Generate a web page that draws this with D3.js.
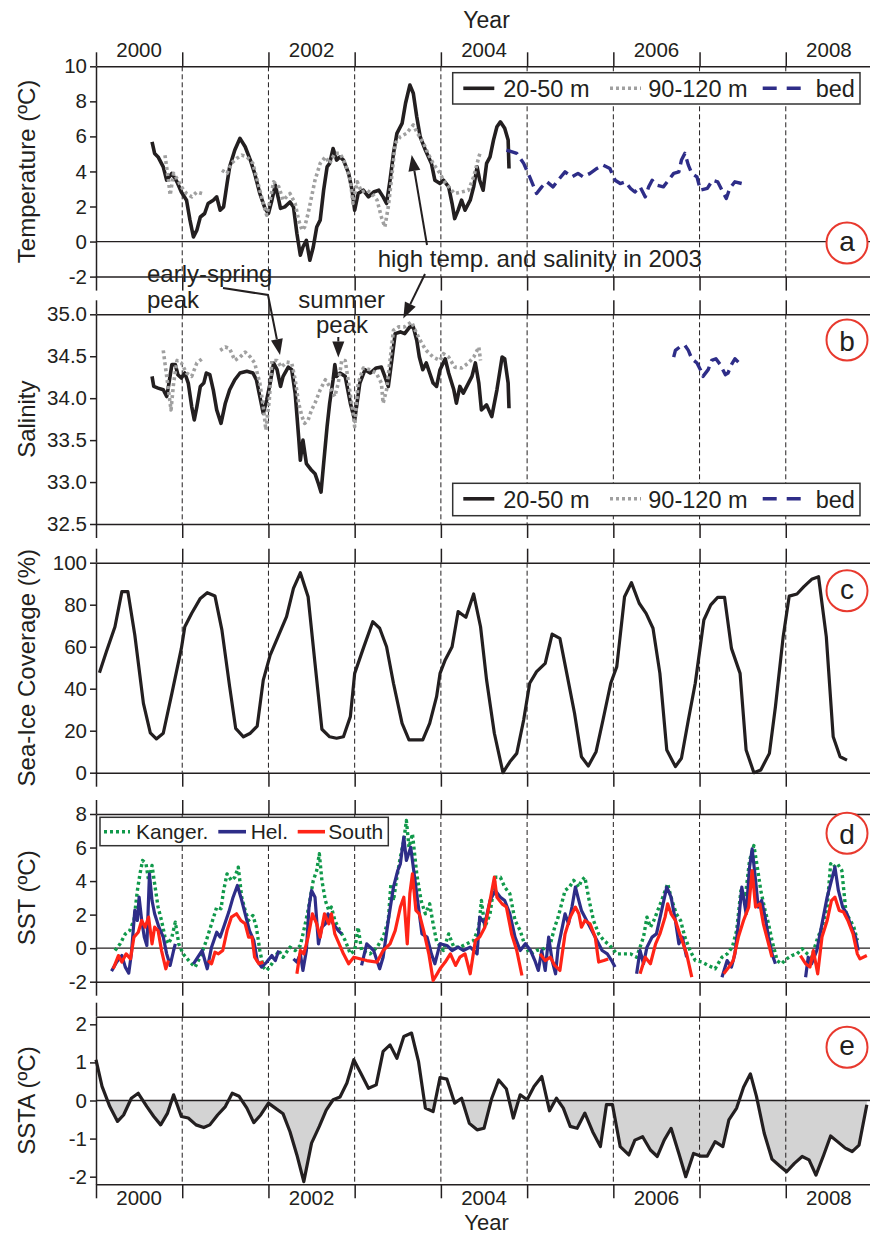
<!DOCTYPE html>
<html>
<head>
<meta charset="utf-8">
<script src="https://cdn.jsdelivr.net/npm/d3@7"></script>
<style>
  body { margin: 0; background: #fff; }
  svg { display: block; }
  text { font-family: "Liberation Sans", Arial, sans-serif; fill: #231f20; }
</style>
</head>
<body>
<svg id="chart" width="870" height="1234"></svg>
<script>
// ---- year ticks ----
const years = [2000, 2001, 2002, 2003, 2004, 2005, 2006, 2007, 2008];
const gridYears = [2001, 2002, 2003, 2004, 2005, 2006, 2007, 2008];
const yearLabels = [2000, 2002, 2004, 2006, 2008];

// ---- y tick values ----
const ticksTemp = [-2, 0, 2, 4, 6, 8, 10];
const ticksSal = [32.5, 33, 33.5, 34, 34.5, 35];
const ticksIce = [0, 20, 40, 60, 80, 100];
const ticksSst = [-2, 0, 2, 4, 6, 8];
const ticksSsta = [-2, -1, 0, 1, 2];

// ---- (a) temperature, [year, degC] ----
const tempShallow = [[2000.65,5.69],[2000.68,5.03],[2000.72,4.83],[2000.78,4.26],[2000.82,3.5],[2000.88,3.89],[2000.94,3.4],[2000.99,2.83],[2001.05,2.36],[2001.09,1.22],[2001.13,0.26],[2001.17,0.65],[2001.21,1.4],[2001.26,1.6],[2001.30,2.17],[2001.36,2.36],[2001.40,2.55],[2001.44,1.79],[2001.48,1.98],[2001.52,3.31],[2001.55,4.26],[2001.61,5.22],[2001.67,5.89],[2001.73,5.41],[2001.79,4.65],[2001.84,3.89],[2001.90,2.74],[2001.96,1.89],[2002.00,1.6],[2002.04,2.36],[2002.08,3.22],[2002.12,2.36],[2002.14,1.89],[2002.19,1.98],[2002.25,2.26],[2002.29,1.98],[2002.33,0.46],[2002.37,-0.78],[2002.40,-0.31],[2002.44,0.07],[2002.48,-1.07],[2002.52,-0.31],[2002.56,0.83],[2002.60,1.22],[2002.64,2.93],[2002.68,4.26],[2002.71,4.46],[2002.75,5.31],[2002.79,4.65],[2002.83,4.83],[2002.87,4.65],[2002.93,3.89],[2002.97,2.93],[2003.00,1.79],[2003.04,2.74],[2003.10,2.93],[2003.16,2.55],[2003.22,2.83],[2003.28,2.93],[2003.33,2.55],[2003.37,2.17],[2003.41,3.5],[2003.45,5.03],[2003.49,6.17],[2003.55,6.74],[2003.59,7.89],[2003.64,8.93],[2003.68,8.46],[2003.72,7.12],[2003.76,5.98],[2003.82,5.22],[2003.89,4.46],[2003.93,3.5],[2003.99,3.31],[2004.03,3.5],[2004.09,3.12],[2004.13,2.17],[2004.16,1.31],[2004.20,1.79],[2004.24,2.36],[2004.28,1.79],[2004.34,2.36],[2004.38,3.12],[2004.42,4.26],[2004.45,3.5],[2004.49,2.93],[2004.53,4.46],[2004.57,4.83],[2004.61,5.79],[2004.65,6.55],[2004.69,6.83],[2004.74,6.46],[2004.78,5.79],[2004.79,4.17]];
const tempDeep = [[2000.80,4.93],[2000.84,3.5],[2000.86,2.65],[2000.90,3.89],[2000.95,3.5],[2000.99,3.12],[2001.05,2.74],[2001.11,2.55],[2001.17,2.83],[2001.23,2.74],[2001.35,null],[2001.46,4.07],[2001.52,3.89],[2001.57,4.46],[2001.63,4.74],[2001.69,4.93],[2001.75,4.83],[2001.82,4.46],[2001.88,3.31],[2001.94,2.17],[2001.98,1.5],[2002.02,2.36],[2002.06,3.41],[2002.12,3.12],[2002.17,2.36],[2002.25,2.74],[2002.31,2.17],[2002.35,1.22],[2002.39,0.65],[2002.42,0.83],[2002.46,1.6],[2002.50,2.55],[2002.54,3.5],[2002.60,4.46],[2002.66,4.83],[2002.71,4.46],[2002.77,5.03],[2002.83,5.03],[2002.89,4.46],[2002.95,3.5],[2002.98,2.17],[2003.03,3.41],[2003.08,2.83],[2003.14,2.93],[2003.20,2.74],[2003.26,2.36],[2003.31,1.4],[2003.35,0.83],[2003.39,1.98],[2003.43,3.69],[2003.47,5.6],[2003.53,5.98],[2003.60,6.17],[2003.68,6.65],[2003.72,6.26],[2003.80,5.6],[2003.85,5.03],[2003.91,4.46],[2003.99,3.89],[2004.03,3.5],[2004.09,3.12],[2004.16,2.74],[2004.24,2.83],[2004.32,2.93],[2004.38,3.69],[2004.44,4.83],[2004.46,5.12]];
const tempBed = [[2004.76,5.22],[2004.88,5.03],[2004.96,4.46],[2005.03,3.69],[2005.11,2.74],[2005.17,3.12],[2005.23,3.41],[2005.30,3.12],[2005.36,3.5],[2005.44,3.98],[2005.52,3.69],[2005.59,3.89],[2005.65,3.69],[2005.73,3.89],[2005.81,4.17],[2005.88,4.36],[2005.96,4.17],[2006.02,3.5],[2006.08,3.31],[2006.14,3.41],[2006.20,3.03],[2006.25,2.83],[2006.31,3.12],[2006.37,2.55],[2006.41,3.12],[2006.45,3.5],[2006.50,3.22],[2006.58,3.12],[2006.64,3.5],[2006.70,3.89],[2006.76,3.98],[2006.79,4.65],[2006.83,5.03],[2006.87,4.36],[2006.91,3.89],[2006.97,3.69],[2007.01,2.93],[2007.09,3.03],[2007.15,3.5],[2007.21,3.41],[2007.27,2.83],[2007.31,2.46],[2007.35,3.03],[2007.41,3.41],[2007.49,3.31]];

// ---- (b) salinity ----
const salShallow = [[2000.65,34.26],[2000.67,34.14],[2000.72,34.12],[2000.78,34.1],[2000.82,34.02],[2000.84,34.14],[2000.88,34.4],[2000.92,34.4],[2000.95,34.28],[2000.99,34.24],[2001.03,34.3],[2001.07,34.18],[2001.11,33.9],[2001.14,33.74],[2001.17,33.9],[2001.21,34.14],[2001.25,34.18],[2001.28,34.3],[2001.32,34.28],[2001.36,34.1],[2001.40,33.86],[2001.45,33.7],[2001.50,33.94],[2001.55,34.1],[2001.61,34.22],[2001.67,34.3],[2001.75,34.32],[2001.82,34.3],[2001.86,34.22],[2001.90,34.02],[2001.94,33.82],[2001.98,33.98],[2002.02,34.18],[2002.06,34.42],[2002.10,34.34],[2002.14,34.14],[2002.17,34.26],[2002.23,34.37],[2002.27,34.34],[2002.31,34.06],[2002.35,33.54],[2002.37,33.26],[2002.40,33.5],[2002.44,33.22],[2002.50,33.14],[2002.54,33.1],[2002.58,32.98],[2002.61,32.88],[2002.64,33.22],[2002.68,33.66],[2002.71,33.94],[2002.75,34.22],[2002.77,34.4],[2002.79,34.26],[2002.83,34.3],[2002.89,34.26],[2002.95,33.94],[2003.00,33.74],[2003.06,34.18],[2003.12,34.34],[2003.18,34.3],[2003.25,34.36],[2003.31,34.37],[2003.35,34.26],[2003.39,34.14],[2003.43,34.45],[2003.47,34.77],[2003.53,34.79],[2003.58,34.77],[2003.64,34.85],[2003.68,34.85],[2003.72,34.69],[2003.75,34.49],[2003.79,34.34],[2003.83,34.42],[2003.87,34.3],[2003.91,34.18],[2003.95,34.14],[2003.99,34.34],[2004.05,34.47],[2004.09,34.3],[2004.15,34.1],[2004.18,33.94],[2004.22,34.14],[2004.26,34.06],[2004.32,34.18],[2004.36,34.26],[2004.40,34.42],[2004.44,34.18],[2004.47,33.86],[2004.53,33.92],[2004.59,33.78],[2004.65,34.1],[2004.71,34.49],[2004.74,34.47],[2004.78,34.18],[2004.79,33.88]];
const salDeep = [[2000.78,34.57],[2000.82,34.26],[2000.87,33.86],[2000.90,34.18],[2000.94,34.45],[2000.99,34.42],[2001.05,34.3],[2001.11,34.26],[2001.17,34.42],[2001.23,34.47],[2001.33,null],[2001.44,34.57],[2001.50,34.61],[2001.55,34.59],[2001.61,34.45],[2001.67,34.49],[2001.73,34.55],[2001.79,34.49],[2001.84,34.42],[2001.90,34.18],[2001.94,33.9],[2001.97,33.62],[2002.01,33.98],[2002.04,34.45],[2002.10,34.45],[2002.15,34.37],[2002.21,34.43],[2002.27,34.42],[2002.31,34.22],[2002.35,33.94],[2002.39,33.78],[2002.42,33.7],[2002.46,33.74],[2002.50,33.86],[2002.54,33.94],[2002.60,34.1],[2002.66,34.22],[2002.71,34.14],[2002.77,34.02],[2002.81,34.18],[2002.85,34.45],[2002.89,34.45],[2002.93,34.18],[2002.97,33.9],[2003.00,33.66],[2003.04,34.18],[2003.10,34.36],[2003.18,34.34],[2003.25,34.3],[2003.31,34.18],[2003.33,33.94],[2003.37,34.1],[2003.41,34.45],[2003.45,34.81],[2003.51,34.85],[2003.58,34.85],[2003.66,34.91],[2003.72,34.77],[2003.78,34.65],[2003.83,34.57],[2003.91,34.49],[2003.99,34.45],[2004.03,34.53],[2004.09,34.49],[2004.16,34.37],[2004.24,34.36],[2004.32,34.42],[2004.38,34.49],[2004.44,34.61],[2004.46,34.45]];
const salBed = [[2006.70,34.49],[2006.72,34.57],[2006.77,34.61],[2006.83,34.63],[2006.87,34.57],[2006.91,34.47],[2006.97,34.42],[2007.01,34.34],[2007.04,34.26],[2007.10,34.34],[2007.14,34.45],[2007.19,34.47],[2007.24,34.4],[2007.30,34.28],[2007.33,34.3],[2007.37,34.4],[2007.41,34.47],[2007.45,34.43]];

// ---- (c) sea-ice coverage, % ----
const seaIce = [[2000.04,47.6],[2000.12,57.6],[2000.22,69.5],[2000.30,86.2],[2000.37,86.2],[2000.45,65.6],[2000.55,33],[2000.63,19],[2000.70,16.1],[2000.78,18.8],[2000.88,37.8],[2000.99,59.2],[2001.03,69.5],[2001.11,75.9],[2001.21,83],[2001.29,85.7],[2001.38,84.1],[2001.46,68],[2001.55,41],[2001.62,21.1],[2001.71,17.1],[2001.79,18.8],[2001.87,22.2],[2001.94,44.1],[2002.02,56],[2002.12,65.6],[2002.21,74.3],[2002.29,87.8],[2002.37,95.2],[2002.46,83.8],[2002.54,52.1],[2002.62,20.7],[2002.71,17.1],[2002.79,16.4],[2002.87,17.1],[2002.95,26.7],[2003.00,47.3],[2003.10,59.2],[2003.21,71.9],[2003.29,68.8],[2003.37,60],[2003.45,42.6],[2003.55,23.5],[2003.63,15.6],[2003.70,15.6],[2003.79,15.6],[2003.87,23.5],[2003.95,36.2],[2003.99,47.3],[2004.05,53.7],[2004.13,60],[2004.20,76.7],[2004.29,74],[2004.38,85.1],[2004.46,69.5],[2004.53,44.1],[2004.62,18.8],[2004.72,0],[2004.80,5.2],[2004.88,9.2],[2004.96,25.1],[2005.03,42.6],[2005.11,48.1],[2005.21,52.1],[2005.29,66],[2005.38,64],[2005.46,47.3],[2005.55,28.3],[2005.63,7.6],[2005.71,3.2],[2005.80,10],[2005.88,25.1],[2005.97,42.6],[2006.04,50.5],[2006.13,83.8],[2006.21,90.5],[2006.30,80.7],[2006.38,75.9],[2006.46,68.8],[2006.54,47.3],[2006.62,10.8],[2006.72,2.9],[2006.79,6.9],[2006.87,25.1],[2006.95,42.6],[2007.05,72.7],[2007.13,79.9],[2007.21,83.5],[2007.29,83.5],[2007.37,59.2],[2007.47,47.3],[2007.54,10.8],[2007.63,0],[2007.71,1.3],[2007.81,9.2],[2007.88,31.4],[2007.97,64.8],[2008.04,84.1],[2008.13,85.1],[2008.21,88.6],[2008.30,92.1],[2008.38,93.3],[2008.47,64.8],[2008.55,17.1],[2008.63,7.6],[2008.71,6]];

// ---- (d) SST, degC ----
const sstKanger = [[2000.22,-0.14],[2000.28,0.26],[2000.34,0.85],[2000.39,1.05],[2000.44,1.65],[2000.48,3.44],[2000.51,4.43],[2000.54,5.23],[2000.58,5.03],[2000.61,4.04],[2000.65,4.93],[2000.68,3.84],[2000.72,2.45],[2000.76,1.65],[2000.80,0.66],[2000.84,0.26],[2000.88,0.66],[2000.92,1.55],[2000.96,0.26],[2001.01,-0.34],[2001.09,-0.83],[2001.15,-1.13],[2001.22,-0.4],[2001.28,0.46],[2001.34,1.45],[2001.40,2.45],[2001.45,2.35],[2001.48,3.44],[2001.52,4.43],[2001.57,4.04],[2001.61,4.23],[2001.65,4.83],[2001.69,3.04],[2001.73,2.25],[2001.77,1.65],[2001.82,1.95],[2001.86,1.25],[2001.90,-0.14],[2001.94,-1.13],[2001.98,-1.33],[2002.04,-0.93],[2002.12,-0.14],[2002.17,-0.54],[2002.25,0.06],[2002.31,-0.14],[2002.37,0.16],[2002.41,1.05],[2002.46,2.25],[2002.52,4.04],[2002.56,4.63],[2002.59,5.63],[2002.62,4.04],[2002.66,2.84],[2002.70,2.25],[2002.73,2.45],[2002.77,1.65],[2002.83,1.05],[2002.89,0.46],[2002.95,-0.34],[2003.00,-0.14],[2003.04,1.25],[2003.08,-0.14],[2003.18,-0.34],[2003.26,0.06],[2003.33,0.66],[2003.39,1.65],[2003.42,3.84],[2003.45,2.84],[2003.49,4.23],[2003.53,5.43],[2003.57,6.42],[2003.60,7.61],[2003.63,6.02],[2003.67,6.82],[2003.72,4.43],[2003.77,2.84],[2003.82,2.05],[2003.87,2.64],[2003.91,1.45],[2003.95,0.4],[2004.03,-0.14],[2004.09,0.85],[2004.15,0.06],[2004.22,0.06],[2004.30,0.26],[2004.38,0.46],[2004.44,1.25],[2004.47,2.84],[2004.51,1.25],[2004.57,2.05],[2004.63,4.23],[2004.69,4.23],[2004.74,3.64],[2004.80,3.24],[2004.86,1.65],[2004.92,1.05],[2004.98,0.06],[2005.04,-0.34],[2005.11,-0.14],[2005.19,-0.04],[2005.27,0.26],[2005.32,1.25],[2005.36,1.85],[2005.40,2.64],[2005.44,3.44],[2005.49,3.64],[2005.54,4.04],[2005.60,3.64],[2005.63,4.04],[2005.67,4.23],[2005.72,2.84],[2005.77,1.65],[2005.83,0.85],[2005.89,0.46],[2005.96,0.16],[2006.04,-0.34],[2006.12,-0.34],[2006.20,-0.34],[2006.27,-0.54],[2006.35,0.66],[2006.39,1.85],[2006.43,1.25],[2006.47,1.65],[2006.50,2.05],[2006.56,2.84],[2006.63,3.84],[2006.68,2.84],[2006.73,2.05],[2006.78,1.65],[2006.83,0.66],[2006.89,-0.14],[2006.95,-0.74],[2007.03,-0.83],[2007.10,-1.03],[2007.18,-1.23],[2007.26,-0.54],[2007.32,-0.34],[2007.38,0.06],[2007.43,1.05],[2007.48,3.44],[2007.53,3.04],[2007.58,5.23],[2007.63,6.12],[2007.67,4.83],[2007.71,3.44],[2007.76,2.25],[2007.80,1.45],[2007.84,0.46],[2007.90,-0.74],[2007.95,-0.93],[2008.01,-0.64],[2008.07,-0.44],[2008.13,-0.34],[2008.19,-0.04],[2008.25,-0.34],[2008.30,-0.54],[2008.36,0.46],[2008.42,1.25],[2008.48,2.45],[2008.52,5.03],[2008.55,4.83],[2008.60,5.03],[2008.65,4.63],[2008.70,2.05],[2008.75,1.65],[2008.79,1.25],[2008.83,0.46]];
const sstHel = [[2000.18,-1.37],[2000.24,-0.83],[2000.30,-0.44],[2000.34,-1.13],[2000.38,-1.49],[2000.41,-0.34],[2000.45,2.25],[2000.48,1.65],[2000.50,3.04],[2000.53,1.65],[2000.56,0.66],[2000.59,0.16],[2000.62,4.43],[2000.65,2.84],[2000.68,2.05],[2000.73,1.25],[2000.78,0.66],[2000.82,-0.34],[2000.86,-1.03],[2000.90,-0.14],[2000.92,0.26],[2001.00,null],[2001.13,-0.93],[2001.23,-0.14],[2001.29,-1.23],[2001.34,0.06],[2001.40,0.95],[2001.44,0.66],[2001.48,1.25],[2001.54,2.15],[2001.59,3.04],[2001.64,3.74],[2001.68,3.04],[2001.73,2.05],[2001.78,1.05],[2001.83,0.46],[2001.87,-0.74],[2001.92,-1.13],[2001.98,-0.83],[2002.04,-0.44],[2002.08,-0.74],[2002.12,-0.14],[2002.20,null],[2002.29,-0.64],[2002.33,-0.83],[2002.37,-0.34],[2002.40,-1.33],[2002.44,-0.14],[2002.47,2.45],[2002.50,3.44],[2002.54,3.04],[2002.58,0.26],[2002.62,1.25],[2002.66,1.45],[2002.69,2.05],[2002.75,1.45],[2002.81,1.05],[2002.85,0.85],[2002.95,null],[2003.08,-1.03],[2003.14,0.26],[2003.22,-0.14],[2003.29,-1.23],[2003.33,-0.54],[2003.39,1.65],[2003.45,3.64],[2003.50,4.63],[2003.53,5.03],[2003.57,6.62],[2003.60,5.23],[2003.65,6.02],[2003.69,4.43],[2003.74,2.45],[2003.78,0.85],[2003.84,0.66],[2003.89,-0.34],[2003.93,-0.93],[2003.99,0.26],[2004.07,0.16],[2004.13,-0.14],[2004.20,0.06],[2004.26,-0.14],[2004.34,0.06],[2004.42,-0.34],[2004.45,1.85],[2004.51,1.45],[2004.57,2.84],[2004.63,3.44],[2004.69,3.04],[2004.74,2.84],[2004.80,2.05],[2004.86,0.66],[2004.92,-0.14],[2004.98,0.26],[2005.04,-0.14],[2005.09,-0.74],[2005.13,-1.33],[2005.17,-0.14],[2005.21,-1.33],[2005.25,0.66],[2005.29,-0.74],[2005.33,-1.53],[2005.36,0.06],[2005.40,1.05],[2005.44,2.05],[2005.48,1.45],[2005.52,2.45],[2005.56,3.64],[2005.60,2.84],[2005.63,2.25],[2005.69,1.65],[2005.75,1.05],[2005.81,0.46],[2005.87,-0.14],[2005.93,-0.34],[2005.98,-0.74],[2006.02,-1.13],[2006.15,null],[2006.27,-1.53],[2006.31,-0.14],[2006.35,-0.93],[2006.39,0.06],[2006.45,0.66],[2006.50,0.85],[2006.56,2.25],[2006.62,3.64],[2006.67,3.04],[2006.72,1.65],[2006.76,0.26],[2006.80,0.66],[2006.85,-0.54],[2007.00,null],[2007.26,-1.73],[2007.32,-0.74],[2007.37,-1.13],[2007.41,-0.34],[2007.45,1.45],[2007.49,3.64],[2007.54,2.05],[2007.58,4.83],[2007.61,5.92],[2007.65,4.04],[2007.68,2.45],[2007.72,2.84],[2007.76,1.85],[2007.80,0.66],[2007.84,-0.34],[2007.88,-0.93],[2008.00,null],[2008.23,-1.73],[2008.26,-0.54],[2008.30,-0.93],[2008.36,-0.14],[2008.42,1.45],[2008.48,3.04],[2008.53,4.04],[2008.57,4.83],[2008.61,3.44],[2008.66,2.45],[2008.71,2.05],[2008.76,1.25],[2008.81,0.66],[2008.84,-0.14]];
const sstSouth = [[2000.20,-1.23],[2000.26,-0.44],[2000.30,-0.83],[2000.35,-0.34],[2000.40,-0.64],[2000.44,0.66],[2000.49,0.95],[2000.53,1.65],[2000.57,1.25],[2000.61,1.85],[2000.65,0.26],[2000.68,1.25],[2000.72,1.05],[2000.76,-0.14],[2000.81,-1.23],[2000.84,-0.74],[2001.00,null],[2001.30,-0.74],[2001.34,-0.93],[2001.38,-0.24],[2001.42,-0.34],[2001.47,-0.14],[2001.52,1.05],[2001.57,1.85],[2001.63,2.05],[2001.68,1.65],[2001.73,1.45],[2001.77,0.66],[2001.81,0.66],[2001.84,-0.54],[2001.89,-0.93],[2001.94,-0.83],[2002.10,null],[2002.33,-1.53],[2002.37,-0.14],[2002.41,-0.34],[2002.46,0.66],[2002.51,2.05],[2002.56,1.45],[2002.60,0.66],[2002.65,2.05],[2002.70,1.45],[2002.73,2.05],[2002.77,0.85],[2002.82,0.26],[2002.87,-0.34],[2002.93,-0.93],[2002.99,-0.54],[2003.14,-0.74],[2003.26,-0.83],[2003.33,-0.14],[2003.41,0.26],[2003.47,1.05],[2003.53,2.45],[2003.57,3.04],[2003.61,0.26],[2003.64,3.24],[2003.67,4.43],[2003.71,2.25],[2003.75,2.05],[2003.80,1.05],[2003.86,-0.34],[2003.91,-1.93],[2003.96,-1.5],[2003.99,-1.23],[2004.05,-0.83],[2004.11,-0.34],[2004.17,-1.03],[2004.22,-0.54],[2004.28,-0.34],[2004.34,-1.53],[2004.40,0.46],[2004.45,0.66],[2004.51,1.25],[2004.57,2.84],[2004.62,4.23],[2004.65,3.04],[2004.71,2.64],[2004.76,2.45],[2004.82,0.85],[2004.88,-0.14],[2004.94,-1.63],[2005.05,null],[2005.15,-0.34],[2005.21,-0.74],[2005.27,-0.54],[2005.32,-1.03],[2005.38,-1.33],[2005.44,0.85],[2005.50,1.85],[2005.56,2.45],[2005.60,2.05],[2005.63,1.25],[2005.67,1.65],[2005.73,1.45],[2005.79,0.66],[2005.83,-0.83],[2005.89,-0.74],[2005.94,-0.64],[2006.10,null],[2006.31,-1.53],[2006.37,-0.54],[2006.43,-0.93],[2006.49,0.26],[2006.54,0.85],[2006.60,1.85],[2006.63,2.64],[2006.67,2.05],[2006.72,1.65],[2006.77,0.85],[2006.81,0.26],[2006.85,-0.34],[2006.91,-1.73],[2007.10,null],[2007.28,-1.53],[2007.34,-1.13],[2007.39,-0.74],[2007.45,0.66],[2007.51,1.65],[2007.57,2.45],[2007.61,4.63],[2007.65,2.45],[2007.70,2.64],[2007.74,1.45],[2007.79,0.46],[2007.84,-0.54],[2008.00,null],[2008.17,-0.44],[2008.23,-0.93],[2008.28,-1.13],[2008.32,-0.14],[2008.37,-1.53],[2008.42,0.66],[2008.48,1.65],[2008.53,2.84],[2008.57,3.04],[2008.62,2.25],[2008.67,2.15],[2008.72,1.65],[2008.78,0.85],[2008.83,-0.34],[2008.86,-0.64],[2008.94,-0.44]];

// ---- (e) SST anomaly, degC ----
const ssta = [[2000.00,1.07],[2000.07,0.37],[2000.16,-0.16],[2000.25,-0.55],[2000.32,-0.38],[2000.41,0.06],[2000.49,0.19],[2000.59,-0.16],[2000.67,-0.42],[2000.75,-0.64],[2000.83,-0.33],[2000.90,0.15],[2000.99,-0.42],[2001.07,-0.46],[2001.16,-0.64],[2001.25,-0.71],[2001.32,-0.64],[2001.41,-0.38],[2001.50,-0.16],[2001.58,0.19],[2001.66,0.11],[2001.75,-0.2],[2001.83,-0.58],[2001.91,-0.38],[2002.00,-0.07],[2002.08,-0.2],[2002.17,-0.35],[2002.25,-0.82],[2002.33,-1.43],[2002.41,-2.13],[2002.50,-1.12],[2002.59,-0.68],[2002.67,-0.25],[2002.75,0.02],[2002.83,0.09],[2002.91,0.46],[2002.99,1.07],[2003.07,0.72],[2003.16,0.32],[2003.25,0.41],[2003.33,1.29],[2003.41,1.46],[2003.49,1.11],[2003.57,1.68],[2003.66,1.77],[2003.74,1.03],[2003.82,-0.2],[2003.91,-0.29],[2003.99,0.6],[2004.07,0.56],[2004.16,-0.07],[2004.24,0.06],[2004.33,-0.6],[2004.42,-0.77],[2004.50,-0.73],[2004.59,0.06],[2004.67,0.54],[2004.76,0.3],[2004.84,-0.46],[2004.92,0.15],[2005.00,0.02],[2005.08,0.37],[2005.17,0.63],[2005.26,-0.27],[2005.34,0.06],[2005.42,-0.2],[2005.50,-0.68],[2005.58,-0.73],[2005.67,-0.33],[2005.76,-0.82],[2005.85,-1.21],[2005.92,-0.11],[2005.99,-0.11],[2006.08,-1.21],[2006.18,-1.43],[2006.25,-1.04],[2006.34,-0.95],[2006.43,-1.3],[2006.51,-1.47],[2006.59,-1.04],[2006.67,-0.73],[2006.76,-1.39],[2006.84,-2.0],[2006.93,-1.39],[2007.01,-1.46],[2007.09,-1.46],[2007.18,-1.08],[2007.27,-1.21],[2007.34,-0.51],[2007.43,-0.2],[2007.51,0.35],[2007.59,0.7],[2007.66,0.11],[2007.75,-0.86],[2007.84,-1.54],[2007.93,-1.72],[2008.01,-1.87],[2008.10,-1.65],[2008.19,-1.47],[2008.27,-1.56],[2008.35,-1.96],[2008.44,-1.43],[2008.52,-0.93],[2008.60,-1.08],[2008.69,-1.25],[2008.77,-1.34],[2008.85,-1.17],[2008.94,-0.11]];

// ---- drawing ----
const ink = "#231f20";
const colGray = "#a0a0a0";
const colNavy = "#2e2d88";
const colGreen = "#10994a";
const colRed = "#ff2417";
const circleRed = "#e8392e";
const dotDash = "3,3";

const svg = d3.select("#chart");
const x = d3.scaleLinear().domain([2000, 2009]).range([96, 872]);

const panels = [
  { letter: "a", top: 66.3, bottom: 276.6, domain: [-2, 10], ticks: ticksTemp, fmt: d => String(d), title: "Temperature (ºC)", zero: true, cy: 243 },
  { letter: "b", top: 314.3, bottom: 524, domain: [32.5, 35], ticks: ticksSal, fmt: d => d.toFixed(1), title: "Salinity", zero: false, cy: 340 },
  { letter: "c", top: 562.7, bottom: 772.7, domain: [0, 100], ticks: ticksIce, fmt: d => String(d), title: "Sea-Ice Coverage (%)", zero: false, cy: 590.7 },
  { letter: "d", top: 814, bottom: 981.7, domain: [-2, 8], ticks: ticksSst, fmt: d => String(d), title: "SST (ºC)", zero: true, cy: 833.3 },
  { letter: "e", top: 1016.7, bottom: 1184.3, domain: [-2.2, 2.2], ticks: ticksSsta, fmt: d => String(d), title: "SSTA (ºC)", zero: true, cy: 1047.3 }
];
panels.forEach(p => { p.y = d3.scaleLinear().domain(p.domain).range([p.bottom, p.top]); });
const [pa, pb, pc, pd, pe] = panels;

// shaded negative anomaly (drawn first so grid shows on top)
svg.append("clipPath").attr("id", "belowZero")
  .append("rect").attr("x", 96).attr("y", pe.y(0)).attr("width", 780).attr("height", pe.bottom - pe.y(0));
svg.append("path").datum(ssta)
  .attr("clip-path", "url(#belowZero)")
  .attr("fill", "#d3d3d3")
  .attr("d", d3.area().x(d => x(d[0])).y0(pe.y(0)).y1(d => pe.y(d[1])));

function styleAxis(g, fontSize) {
  g.attr("font-family", null).attr("font-size", null);
  g.selectAll("path.domain").attr("stroke", ink).attr("stroke-width", 1.5);
  g.selectAll(".tick line").attr("stroke", ink).attr("stroke-width", 1.5);
  g.selectAll(".tick text").attr("fill", ink).style("font-size", fontSize + "px");
}

panels.forEach(p => {
  const g = svg.append("g");
  g.selectAll("line.grid").data(gridYears).join("line")
    .attr("class", "grid")
    .attr("x1", d => x(d)).attr("x2", d => x(d))
    .attr("y1", p.top).attr("y2", p.bottom)
    .attr("stroke", ink).attr("stroke-width", 1).attr("stroke-dasharray", "5,3");

  if (p.zero) {
    g.append("line").attr("x1", 96).attr("x2", 872)
      .attr("y1", p.y(0)).attr("y2", p.y(0))
      .attr("stroke", ink).attr("stroke-width", 1.3);
  }

  g.append("g").attr("transform", `translate(0,${p.top})`)
    .call(d3.axisTop(x).tickValues(years).tickSize(14).tickSizeOuter(0).tickFormat(""))
    .call(a => styleAxis(a, 20.5));
  g.append("g").attr("transform", `translate(0,${p.bottom})`)
    .call(d3.axisBottom(x).tickValues(years).tickSize(14).tickSizeOuter(0).tickFormat(""))
    .call(a => styleAxis(a, 20.5));
  g.append("g").attr("transform", "translate(96,0)")
    .call(d3.axisLeft(p.y).tickValues(p.ticks).tickSize(6).tickSizeOuter(0).tickPadding(3).tickFormat(p.fmt))
    .call(a => styleAxis(a, 20.5));

  g.append("text")
    .attr("transform", `translate(35,${(p.top + p.bottom) / 2}) rotate(-90)`)
    .attr("text-anchor", "middle")
    .style("font-size", "24px")
    .text(p.title);

  g.append("circle").attr("cx", 847).attr("cy", p.cy).attr("r", 20.5)
    .attr("fill", "#fff").attr("stroke", circleRed).attr("stroke-width", 2);
  const tall = (p.letter === "b" || p.letter === "d");
  g.append("text").attr("x", 847).attr("y", p.cy + (tall ? 10.5 : 8))
    .attr("text-anchor", "middle").style("font-size", "28px")
    .text(p.letter);
});

// year labels, top and bottom
svg.selectAll("text.ytop").data(yearLabels).join("text")
  .attr("x", d => x(d + 0.5)).attr("y", 57.3)
  .attr("text-anchor", "middle").style("font-size", "20.5px").text(d => d);
svg.selectAll("text.ybot").data(yearLabels).join("text")
  .attr("x", d => x(d + 0.5)).attr("y", 1205)
  .attr("text-anchor", "middle").style("font-size", "20.5px").text(d => d);
svg.append("text").attr("x", x(2004.53)).attr("y", 28).attr("text-anchor", "middle").style("font-size", "23px").text("Year");
svg.append("text").attr("x", x(2004.53)).attr("y", 1229.5).attr("text-anchor", "middle").style("font-size", "22px").text("Year");

// series
function series(panel, data, color, width, dash) {
  const line = d3.line().defined(d => d[1] != null)
    .x(d => x(d[0])).y(d => panel.y(d[1]));
  svg.append("path").datum(data)
    .attr("fill", "none").attr("stroke", color).attr("stroke-width", width)
    .attr("stroke-linejoin", "round")
    .attr("stroke-dasharray", dash || null)
    .attr("d", line);
}

series(pa, tempShallow, ink, 3.6);
series(pa, tempDeep, colGray, 3.6, dotDash);
series(pa, tempBed, colNavy, 3.4, "12,6");

series(pb, salShallow, ink, 3.6);
series(pb, salDeep, colGray, 3.6, dotDash);
series(pb, salBed, colNavy, 3.4, "12,6");

series(pc, seaIce, ink, 3.2);

series(pd, sstKanger, colGreen, 3.4, dotDash);
series(pd, sstHel, colNavy, 3.2);
series(pd, sstSouth, colRed, 3.2);

series(pe, ssta, ink, 3.2);

// legends
function legend(box, items, fontSize, sampleY, textY) {
  const g = svg.append("g");
  g.append("rect").attr("x", box[0]).attr("y", box[1]).attr("width", box[2]).attr("height", box[3])
    .attr("fill", "#fff").attr("stroke", "#333").attr("stroke-width", 1.5);
  items.forEach(it => {
    g.append("line").attr("x1", it.x0).attr("x2", it.x1).attr("y1", sampleY).attr("y2", sampleY)
      .attr("stroke", it.color).attr("stroke-width", 3.6).attr("stroke-dasharray", it.dash || null);
    g.append("text").attr("x", it.tx).attr("y", textY).style("font-size", fontSize + "px").text(it.label);
  });
}
const legendAB = () => [
  { x0: 463.3, x1: 494.3, tx: 503.3, color: ink, label: "20-50 m" },
  { x0: 610, x1: 641, tx: 648.3, color: colGray, dash: dotDash, label: "90-120 m" },
  { x0: 762.7, x1: 806, tx: 815.7, color: colNavy, dash: "14,10", label: "bed" }
];
legend([452.7, 72.7, 407.3, 31.3], legendAB(), 23.5, 88.3, 97);
legend([452.7, 483.3, 407.3, 32.4], legendAB(), 23.5, 498.8, 508.3);
legend([100, 817.3, 288.3, 28.4], [
  { x0: 104, x1: 130, tx: 136, color: colGreen, dash: dotDash, label: "Kanger." },
  { x0: 218.3, x1: 246, tx: 250.7, color: colNavy, label: "Hel." },
  { x0: 297.7, x1: 325, tx: 328.3, color: colRed, label: "South" }
], 21, 831.7, 838.5);

// annotations
function arrow(pts) {
  const tip = pts[pts.length - 1], prev = pts[pts.length - 2];
  const ang = Math.atan2(tip[1] - prev[1], tip[0] - prev[0]);
  const L = 16, W = 6;
  const base = [tip[0] - L * Math.cos(ang), tip[1] - L * Math.sin(ang)];
  svg.append("path").attr("d", d3.line()(pts.slice(0, -1).concat([base])))
    .attr("fill", "none").attr("stroke", ink).attr("stroke-width", 2);
  const l = [base[0] + W * Math.sin(ang), base[1] - W * Math.cos(ang)];
  const r = [base[0] - W * Math.sin(ang), base[1] + W * Math.cos(ang)];
  svg.append("path").attr("d", `M${tip}L${l}L${r}Z`).attr("fill", ink);
}
function note(tx, ty, str) {
  svg.append("text").attr("x", tx).attr("y", ty).style("font-size", "24px").text(str);
}
note(147, 282, "early-spring");
note(147, 307.5, "peak");
note(298.3, 307.5, "summer");
note(316, 333.3, "peak");
note(377.7, 266.7, "high temp. and salinity in 2003");
arrow([[223, 288], [268, 295], [280, 355]]);
arrow([[338.3, 337], [338.3, 357.5]]);
arrow([[427, 245], [411.7, 155]]);
arrow([[425, 274], [403.3, 318.5]]);
</script>
</body>
</html>
